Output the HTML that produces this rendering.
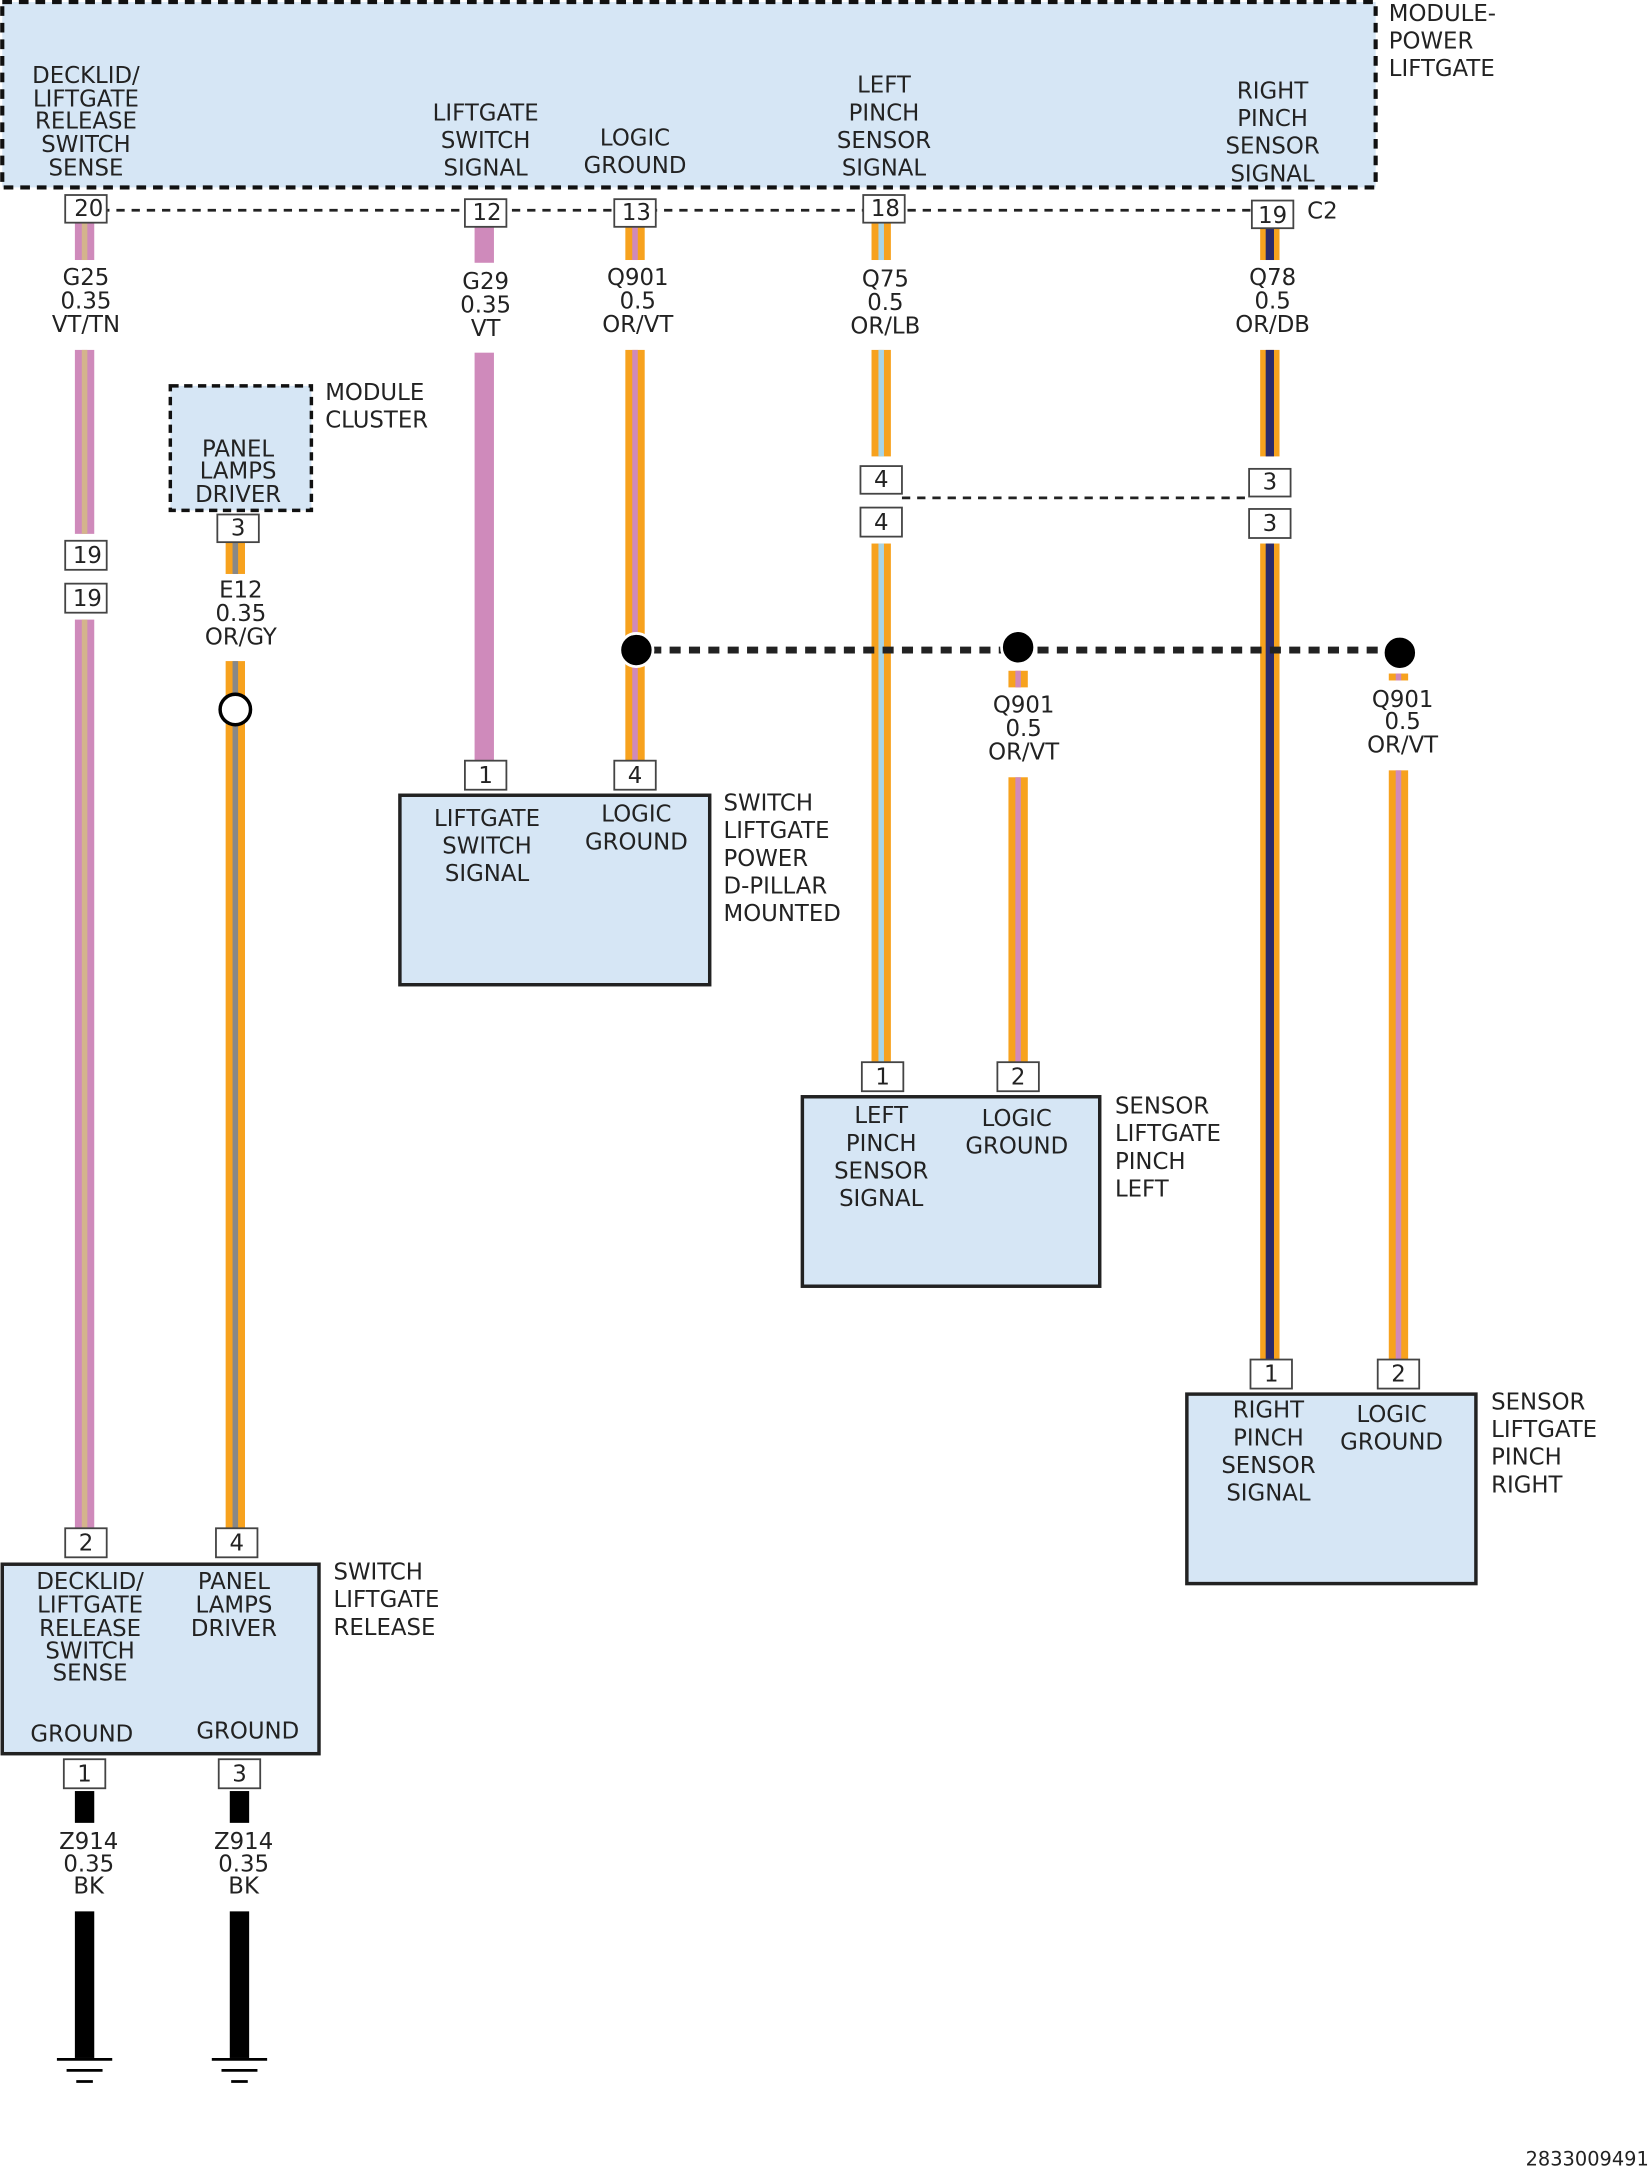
<!DOCTYPE html>
<html><head><meta charset="utf-8"><style>
html,body{margin:0;padding:0;background:#fff}
svg{display:block}
text{font-family:"DejaVu Sans","Liberation Sans",sans-serif;font-size:16.5px;fill:#222;dominant-baseline:central}
.c{text-anchor:middle}
.pin{fill:#fff;stroke:#444;stroke-width:1.3}
.box{fill:#d6e6f5;stroke:#222;stroke-width:2.5}
</style></head><body>
<svg width="1649" height="2170" viewBox="0 0 1192 1569" xmlns="http://www.w3.org/2000/svg">
<defs>
<g id="gnd"><line x1="-20" y1="0" x2="20" y2="0" stroke="#000" stroke-width="2"/><line x1="-13" y1="8" x2="13" y2="8" stroke="#000" stroke-width="2"/><line x1="-6" y1="16" x2="6" y2="16" stroke="#000" stroke-width="2"/></g>
</defs>
<rect x="1.5" y="1.5" width="993" height="134" fill="#d6e6f5" stroke="#111" stroke-width="3" stroke-dasharray="7,5"/>
<g class="c">
<text x="62" y="55" class="c">DECKLID/</text><text x="62" y="72" class="c">LIFTGATE</text><text x="62" y="88" class="c">RELEASE</text><text x="62" y="105" class="c">SWITCH</text><text x="62" y="122" class="c">SENSE</text>
<text x="351" y="82" class="c">LIFTGATE</text><text x="351" y="102" class="c">SWITCH</text><text x="351" y="122" class="c">SIGNAL</text>
<text x="459" y="100" class="c">LOGIC</text><text x="459" y="120" class="c">GROUND</text>
<text x="639" y="62" class="c">LEFT</text><text x="639" y="82" class="c">PINCH</text><text x="639" y="102" class="c">SENSOR</text><text x="639" y="122" class="c">SIGNAL</text>
<text x="920" y="66" class="c">RIGHT</text><text x="920" y="86" class="c">PINCH</text><text x="920" y="106" class="c">SENSOR</text><text x="920" y="126" class="c">SIGNAL</text>
</g>
<text x="1004" y="10">MODULE-</text><text x="1004" y="30">POWER</text><text x="1004" y="50">LIFTGATE</text>
<line x1="62" y1="152" x2="920" y2="152" stroke="#222" stroke-width="2" stroke-dasharray="6,5"/>
<text x="945" y="153">C2</text>

<g>
<rect x="54" y="161" width="14" height="27" fill="#cf8abb"/><rect x="59" y="161" width="4" height="27" fill="#d4b48c"/>
<rect x="54" y="253" width="14" height="133" fill="#cf8abb"/><rect x="59" y="253" width="4" height="133" fill="#d4b48c"/>
<rect x="54" y="448" width="14" height="657" fill="#cf8abb"/><rect x="59" y="448" width="4" height="657" fill="#d4b48c"/>
</g>
<rect x="343" y="164" width="14" height="26" fill="#cf8abb"/><rect x="343" y="255" width="14" height="295" fill="#cf8abb"/>
<rect x="452" y="164" width="14" height="24" fill="#f7a21e"/><rect x="457" y="164" width="4" height="24" fill="#cf8abb"/>
<rect x="452" y="253" width="14" height="297" fill="#f7a21e"/><rect x="457" y="253" width="4" height="297" fill="#cf8abb"/>
<rect x="630" y="161" width="14" height="27" fill="#f7a21e"/><rect x="635" y="161" width="4" height="27" fill="#a8d4e6"/>
<rect x="630" y="253" width="14" height="77" fill="#f7a21e"/><rect x="635" y="253" width="4" height="77" fill="#a8d4e6"/>
<rect x="630" y="393" width="14" height="377" fill="#f7a21e"/><rect x="635" y="393" width="4" height="377" fill="#a8d4e6"/>
<rect x="911" y="165" width="14" height="23" fill="#f7a21e"/><rect x="915" y="165" width="6" height="23" fill="#2b2b6b"/>
<rect x="911" y="253" width="14" height="77" fill="#f7a21e"/><rect x="915" y="253" width="6" height="77" fill="#2b2b6b"/>
<rect x="911" y="393" width="14" height="592" fill="#f7a21e"/><rect x="915" y="393" width="6" height="592" fill="#2b2b6b"/>
<rect x="163" y="392" width="14" height="23" fill="#f7a21e"/><rect x="168" y="392" width="4" height="23" fill="#888"/>
<rect x="163" y="478" width="14" height="627" fill="#f7a21e"/><rect x="168" y="478" width="4" height="627" fill="#888"/>
<rect x="729" y="485" width="14" height="12" fill="#f7a21e"/><rect x="734" y="485" width="4" height="12" fill="#cf8abb"/>
<rect x="729" y="562" width="14" height="208" fill="#f7a21e"/><rect x="734" y="562" width="4" height="208" fill="#cf8abb"/>
<rect x="1004" y="487" width="14" height="5" fill="#f7a21e"/><rect x="1009" y="487" width="4" height="5" fill="#cf8abb"/>
<rect x="1004" y="557" width="14" height="428" fill="#f7a21e"/><rect x="1009" y="557" width="4" height="428" fill="#cf8abb"/>
<rect x="54" y="1295" width="14" height="23" fill="#000"/><rect x="54" y="1382" width="14" height="106" fill="#000"/>
<rect x="166" y="1295" width="14" height="23" fill="#000"/><rect x="166" y="1382" width="14" height="106" fill="#000"/>
<use href="#gnd" x="61" y="1489"/><use href="#gnd" x="173" y="1489"/>

<g>
<text x="62" y="201" class="c">G25</text><text x="62" y="218" class="c">0.35</text><text x="62" y="235" class="c">VT/TN</text>
<text x="351" y="204" class="c">G29</text><text x="351" y="221" class="c">0.35</text><text x="351" y="238" class="c">VT</text>
<text x="461" y="201" class="c">Q901</text><text x="461" y="218" class="c">0.5</text><text x="461" y="235" class="c">OR/VT</text>
<text x="640" y="202" class="c">Q75</text><text x="640" y="219" class="c">0.5</text><text x="640" y="236" class="c">OR/LB</text>
<text x="920" y="201" class="c">Q78</text><text x="920" y="218" class="c">0.5</text><text x="920" y="235" class="c">OR/DB</text>
<text x="174" y="427" class="c">E12</text><text x="174" y="444" class="c">0.35</text><text x="174" y="461" class="c">OR/GY</text>
<text x="740" y="510" class="c">Q901</text><text x="740" y="527" class="c">0.5</text><text x="740" y="544" class="c">OR/VT</text>
<text x="1014" y="506" class="c">Q901</text><text x="1014" y="522" class="c">0.5</text><text x="1014" y="539" class="c">OR/VT</text>
<text x="64" y="1332" class="c">Z914</text><text x="64" y="1348" class="c">0.35</text><text x="64" y="1364" class="c">BK</text>
<text x="176" y="1332" class="c">Z914</text><text x="176" y="1348" class="c">0.35</text><text x="176" y="1364" class="c">BK</text>
</g>

<line x1="652" y1="360" x2="905" y2="360" stroke="#222" stroke-width="2" stroke-dasharray="6,5"/>

<line x1="470" y1="470" x2="1002" y2="470" stroke="#222" stroke-width="5" stroke-dasharray="8,6"/>
<circle cx="460" cy="470" r="12" fill="#000" stroke="#fff" stroke-width="2"/>
<circle cx="736" cy="468" r="12" fill="#000" stroke="#fff" stroke-width="2"/>
<circle cx="1012" cy="472" r="12" fill="#000" stroke="#fff" stroke-width="2"/>
<circle cx="170" cy="513" r="11" fill="#fff" stroke="#000" stroke-width="2.5"/>

<rect x="123" y="279" width="102" height="90" fill="#d6e6f5" stroke="#111" stroke-width="2.5" stroke-dasharray="6,4"/>
<text x="172" y="325" class="c">PANEL</text><text x="172" y="341" class="c">LAMPS</text><text x="172" y="358" class="c">DRIVER</text>
<text x="235" y="284">MODULE</text><text x="235" y="304">CLUSTER</text>

<rect x="289" y="575" width="224" height="137" class="box"/>
<text x="352" y="592" class="c">LIFTGATE</text><text x="352" y="612" class="c">SWITCH</text><text x="352" y="632" class="c">SIGNAL</text>
<text x="460" y="589" class="c">LOGIC</text><text x="460" y="609" class="c">GROUND</text>
<text x="523" y="581">SWITCH</text><text x="523" y="601">LIFTGATE</text><text x="523" y="621">POWER</text><text x="523" y="641">D-PILLAR</text><text x="523" y="661">MOUNTED</text>

<rect x="580" y="793" width="215" height="137" class="box"/>
<text x="637" y="807" class="c">LEFT</text><text x="637" y="827" class="c">PINCH</text><text x="637" y="847" class="c">SENSOR</text><text x="637" y="867" class="c">SIGNAL</text>
<text x="735" y="809" class="c">LOGIC</text><text x="735" y="829" class="c">GROUND</text>
<text x="806" y="800">SENSOR</text><text x="806" y="820">LIFTGATE</text><text x="806" y="840">PINCH</text><text x="806" y="860">LEFT</text>

<rect x="858" y="1008" width="209" height="137" class="box"/>
<text x="917" y="1020" class="c">RIGHT</text><text x="917" y="1040" class="c">PINCH</text><text x="917" y="1060" class="c">SENSOR</text><text x="917" y="1080" class="c">SIGNAL</text>
<text x="1006" y="1023" class="c">LOGIC</text><text x="1006" y="1043" class="c">GROUND</text>
<text x="1078" y="1014">SENSOR</text><text x="1078" y="1034">LIFTGATE</text><text x="1078" y="1054">PINCH</text><text x="1078" y="1074">RIGHT</text>

<rect x="1.5" y="1131" width="229" height="137" class="box"/>
<text x="65" y="1144" class="c">DECKLID/</text><text x="65" y="1161" class="c">LIFTGATE</text><text x="65" y="1178" class="c">RELEASE</text><text x="65" y="1194" class="c">SWITCH</text><text x="65" y="1210" class="c">SENSE</text>
<text x="169" y="1144" class="c">PANEL</text><text x="169" y="1161" class="c">LAMPS</text><text x="169" y="1178" class="c">DRIVER</text>
<text x="59" y="1254" class="c">GROUND</text><text x="179" y="1252" class="c">GROUND</text>
<text x="241" y="1137">SWITCH</text><text x="241" y="1157">LIFTGATE</text><text x="241" y="1177">RELEASE</text>

<g>
<rect x="47" y="141" width="30" height="20" class="pin"/><text x="64" y="151" class="c">20</text>
<rect x="336" y="144" width="30" height="20" class="pin"/><text x="352" y="154" class="c">12</text>
<rect x="444" y="144" width="30" height="20" class="pin"/><text x="460" y="154" class="c">13</text>
<rect x="624" y="141" width="30" height="20" class="pin"/><text x="640" y="151" class="c">18</text>
<rect x="905" y="145" width="30" height="20" class="pin"/><text x="920" y="156" class="c">19</text>
<rect x="47" y="391" width="30" height="21" class="pin"/><text x="63" y="402" class="c">19</text>
<rect x="47" y="422" width="30" height="21" class="pin"/><text x="63" y="433" class="c">19</text>
<rect x="157" y="372" width="30" height="20" class="pin"/><text x="172" y="382" class="c">3</text>
<rect x="622" y="337" width="30" height="20" class="pin"/><text x="637" y="347" class="c">4</text>
<rect x="622" y="367" width="30" height="21" class="pin"/><text x="637" y="378" class="c">4</text>
<rect x="903" y="339" width="30" height="20" class="pin"/><text x="918" y="349" class="c">3</text>
<rect x="903" y="368" width="30" height="21" class="pin"/><text x="918" y="379" class="c">3</text>
<rect x="336" y="550" width="30" height="21" class="pin"/><text x="351" y="561" class="c">1</text>
<rect x="444" y="550" width="30" height="21" class="pin"/><text x="459" y="561" class="c">4</text>
<rect x="623" y="768" width="30" height="21" class="pin"/><text x="638" y="779" class="c">1</text>
<rect x="721" y="768" width="30" height="21" class="pin"/><text x="736" y="779" class="c">2</text>
<rect x="904" y="983" width="30" height="21" class="pin"/><text x="919" y="994" class="c">1</text>
<rect x="996" y="983" width="30" height="21" class="pin"/><text x="1011" y="994" class="c">2</text>
<rect x="47" y="1105" width="30" height="21" class="pin"/><text x="62" y="1116" class="c">2</text>
<rect x="156" y="1105" width="30" height="21" class="pin"/><text x="171" y="1116" class="c">4</text>
<rect x="46" y="1272" width="30" height="21" class="pin"/><text x="61" y="1283" class="c">1</text>
<rect x="158" y="1272" width="30" height="21" class="pin"/><text x="173" y="1283" class="c">3</text>
</g>
<text x="1192" y="1561" style="text-anchor:end;font-size:14px">2833009491</text>
</svg>
</body></html>
